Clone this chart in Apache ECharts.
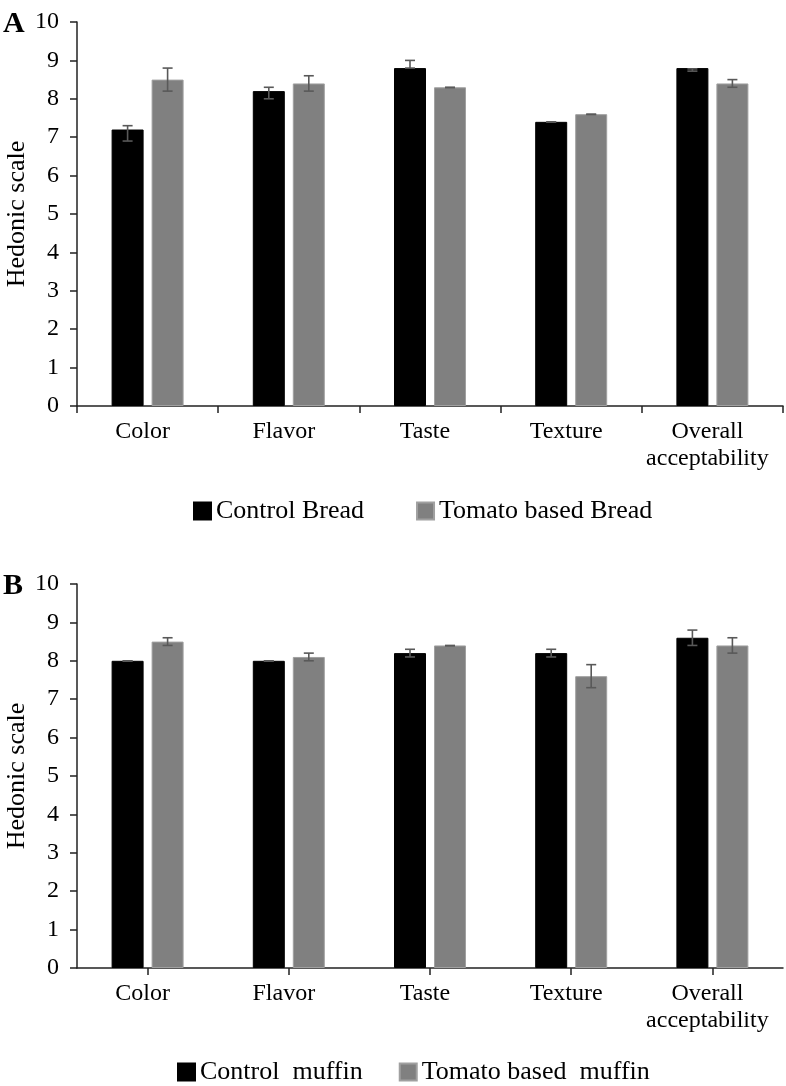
<!DOCTYPE html>
<html><head><meta charset="utf-8">
<script src="https://cdn.jsdelivr.net/npm/echarts@6/dist/echarts.min.js"></script>
<style>html,body{margin:0;padding:0;background:#fff}#c{width:786px;height:1086px}</style>
</head><body><div id="c"></div>
<script>
var categories = ['Color', 'Flavor', 'Taste', 'Texture', 'Overall\nacceptability'];
var yTicks = [0,1,2,3,4,5,6,7,8,9,10];

// Panel A (bread)
var breadControl = [7.2, 8.2, 8.8, 7.4, 8.8];
var breadControlLow = [6.9, 8.0, 8.8, 7.39, 8.72];
var breadControlHigh = [7.3, 8.3, 9.0, 7.40, 8.78];
var breadTomato = [8.5, 8.4, 8.3, 7.6, 8.4];
var breadTomatoLow = [8.2, 8.2, 8.29, 7.59, 8.3];
var breadTomatoHigh = [8.8, 8.6, 8.3, 7.6, 8.5];

// Panel B (muffin)
var muffinControl = [8.0, 8.0, 8.2, 8.2, 8.6];
var muffinControlLow = [7.99, 7.99, 8.1, 8.1, 8.4];
var muffinControlHigh = [8.0, 8.0, 8.3, 8.3, 8.8];
var muffinTomato = [8.5, 8.1, 8.4, 7.6, 8.4];
var muffinTomatoLow = [8.4, 8.0, 8.39, 7.3, 8.2];
var muffinTomatoHigh = [8.6, 8.2, 8.4, 7.9, 8.6];

var FONT = '"Liberation Serif", "Times New Roman", serif';
var BAR_W = 32, BAR_GAP = 8;
var OFF = (BAR_W + BAR_GAP) / 2;

function errData(lo, hi) { return lo.map(function (v, i) { return [i, v, hi[i]]; }); }
function errRender(offset) {
  return function (params, api) {
    var i = api.value(0);
    var a = api.coord([i, api.value(1)]);
    var b = api.coord([i, api.value(2)]);
    var cx = a[0] + offset, h = 5;
    var st = { stroke: '#595959', lineWidth: 1.6 };
    return { type: 'group', children: [
      { type: 'line', shape: { x1: cx, y1: a[1], x2: cx, y2: b[1] }, style: st },
      { type: 'line', shape: { x1: cx - h, y1: a[1], x2: cx + h, y2: a[1] }, style: st },
      { type: 'line', shape: { x1: cx - h, y1: b[1], x2: cx + h, y2: b[1] }, style: st }
    ]};
  };
}
function xAxis(idx, align) {
  return {
    type: 'category', gridIndex: idx, data: categories,
    axisLine: { lineStyle: { color: '#222', width: 1.5 } },
    axisTick: { show: true, length: 7, alignWithLabel: align, lineStyle: { color: '#222', width: 1.5 } },
    axisLabel: { interval: 0, color: '#000', fontFamily: FONT, fontSize: 24, lineHeight: 27, margin: 12, padding: [0, 10, 0, 0] }
  };
}
function yAxis(idx) {
  return {
    type: 'value', gridIndex: idx, min: 0, max: 10, interval: 1,
    name: 'Hedonic scale', nameLocation: 'middle', nameGap: 47, nameRotate: 90, nameMoveOverlap: false,
    nameTextStyle: { color: '#000', fontFamily: FONT, fontSize: 26 },
    axisLine: { show: true, lineStyle: { color: '#222', width: 1.5 } },
    axisTick: { show: true, length: 7, lineStyle: { color: '#222', width: 1.5 } },
    splitLine: { show: false },
    axisLabel: { color: '#000', fontFamily: FONT, fontSize: 24, margin: 18,
      formatter: function (v) { return yTicks.indexOf(v) >= 0 ? String(v) : ''; } }
  };
}
function bar(name, data, idx, color, border) {
  return { type: 'bar', name: name, data: data, xAxisIndex: idx, yAxisIndex: idx,
    barWidth: BAR_W, barGap: (BAR_GAP / BAR_W * 100) + '%',
    itemStyle: { color: color, borderColor: border, borderWidth: 1 }, z: 2 };
}
function err(lo, hi, idx, offset) {
  return { type: 'custom', data: errData(lo, hi), xAxisIndex: idx, yAxisIndex: idx,
    encode: { x: 0, y: [1, 2] }, renderItem: errRender(offset), z: 5, silent: true };
}

var chart = echarts.init(document.getElementById('c'), null, { renderer: 'canvas' });
chart.setOption({
  animation: false,
  backgroundColor: '#fff',
  title: [
    { text: 'A', left: -2, top: 4, textStyle: { fontFamily: FONT, fontSize: 30, fontWeight: 'bold', color: '#000' } },
    { text: 'B', left: -2, top: 566, textStyle: { fontFamily: FONT, fontSize: 30, fontWeight: 'bold', color: '#000' } }
  ],
  grid: [
    { left: 77, top: 22, width: 706, height: 384, containLabel: false, outerBoundsMode: 'none' },
    { left: 77, top: 584, width: 706, height: 384, containLabel: false, outerBoundsMode: 'none' }
  ],
  legend: [
    { data: ['Control Bread', 'Tomato based Bread'], left: 188, top: 493, icon: 'rect', itemWidth: 17, itemHeight: 17, itemGap: 52,
      textStyle: { fontFamily: FONT, fontSize: 26, color: '#000' } },
    { data: ['Control  muffin', 'Tomato based  muffin'], left: 172, top: 1054, icon: 'rect', itemWidth: 17, itemHeight: 17, itemGap: 36,
      textStyle: { fontFamily: FONT, fontSize: 26, color: '#000' } }
  ],
  xAxis: [xAxis(0, false), xAxis(1, true)],
  yAxis: [yAxis(0), yAxis(1)],
  series: [
    bar('Control Bread', breadControl, 0, '#000000', '#000000'),
    bar('Tomato based Bread', breadTomato, 0, '#808080', '#a0a0a0'),
    err(breadControlLow, breadControlHigh, 0, -OFF),
    err(breadTomatoLow, breadTomatoHigh, 0, OFF),
    bar('Control  muffin', muffinControl, 1, '#000000', '#000000'),
    bar('Tomato based  muffin', muffinTomato, 1, '#808080', '#a0a0a0'),
    err(muffinControlLow, muffinControlHigh, 1, -OFF),
    err(muffinTomatoLow, muffinTomatoHigh, 1, OFF)
  ]
});
</script></body></html>
